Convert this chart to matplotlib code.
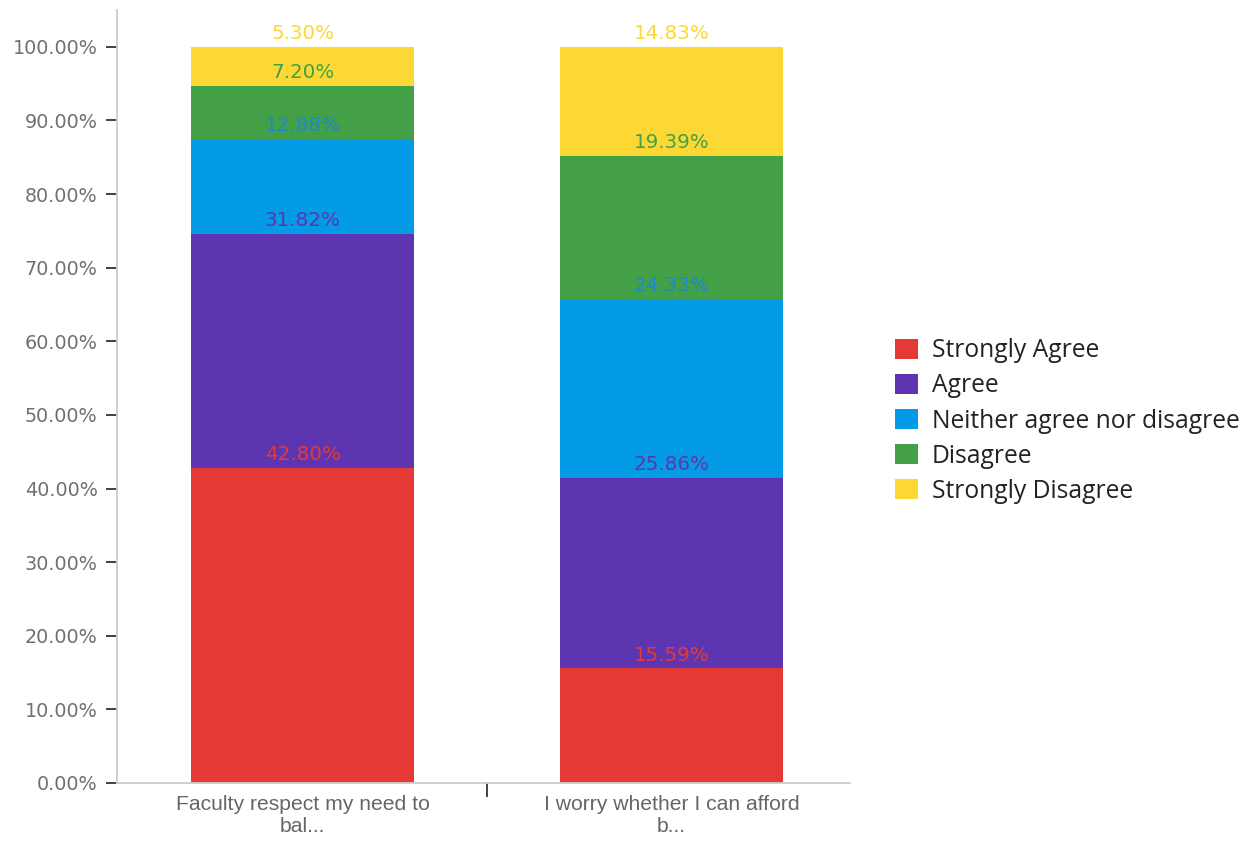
import matplotlib.pyplot as plt
import numpy as np

categories = ['Faculty respect my need to\nbal...', 'I worry whether I can afford\nb...']
responses = ['Strongly Agree', 'Agree', 'Neither agree nor disagree', 'Disagree', 'Strongly Disagree']
strongly_agree = [42.80, 15.59]
agree = [31.82, 25.86]
neither = [12.88, 24.33]
disagree = [7.20, 19.39]
strongly_disagree = [5.30, 14.83]
colors = ['#E53935', '#5E35B1', '#039BE5', '#43A047', '#FDD835']
text_colors = ['#E53935', '#5E35B1', '#1E88D0', '#43A047', '#FDD835']

series = [strongly_agree, agree, neither, disagree, strongly_disagree]

fig = plt.figure(figsize=(12.56, 8.41), dpi=100)
ax = fig.add_axes([117/1256, 58/841, (850-117)/1256, (783-10)/841])

x = np.arange(len(categories))
bottom = np.zeros(len(categories))
for vals, name, c, tc in zip(series, responses, colors, text_colors):
    vals = np.array(vals)
    ax.bar(x, vals, 0.604, bottom=bottom, color=c, label=name)
    for xi, b, v in zip(x, bottom, vals):
        ax.text(xi, b + v + 0.5, '%.2f%%' % v, ha='center', va='bottom',
                color=tc, fontsize=14.3, family='DejaVu Sans')
    bottom += vals

ax.set_xlim(-0.503, 1.484)
ax.set_ylim(0, 105)
ax.set_yticks(np.arange(0, 101, 10))
ax.set_yticklabels(['%.2f%%' % t for t in np.arange(0, 101, 10)],
                   color='#707070', fontsize=13.8, family='DejaVu Sans')
ax.tick_params(axis='y', length=8, width=1.3, color='#333333', pad=6)

ax.set_xticks(x)
ax.set_xticklabels(categories, color='#666666', fontsize=15.2, family='Liberation Sans',
                   linespacing=1.15)
ax.tick_params(axis='x', which='major', length=0, pad=9)
ax.set_xticks([0.5], minor=True)
ax.tick_params(axis='x', which='minor', length=10, width=1.3, color='#333333', direction='out')

for s in ['top', 'right']:
    ax.spines[s].set_visible(False)
ax.spines['left'].set_color('#cccccc')
ax.spines['bottom'].set_color('#cccccc')
ax.spines['left'].set_linewidth(1.3)
ax.spines['bottom'].set_linewidth(1.3)

leg = fig.legend(loc='center left', bbox_to_anchor=(885/1256, 1 - 421/841), frameon=False,
                 prop={'family': 'Open Sans', 'size': 17.7}, handlelength=0.95, handleheight=0.85,
                 labelspacing=0.41, handletextpad=0.55, borderaxespad=0)
for t in leg.get_texts():
    t.set_color('#222222')

fig.savefig('out.png', dpi=100)
